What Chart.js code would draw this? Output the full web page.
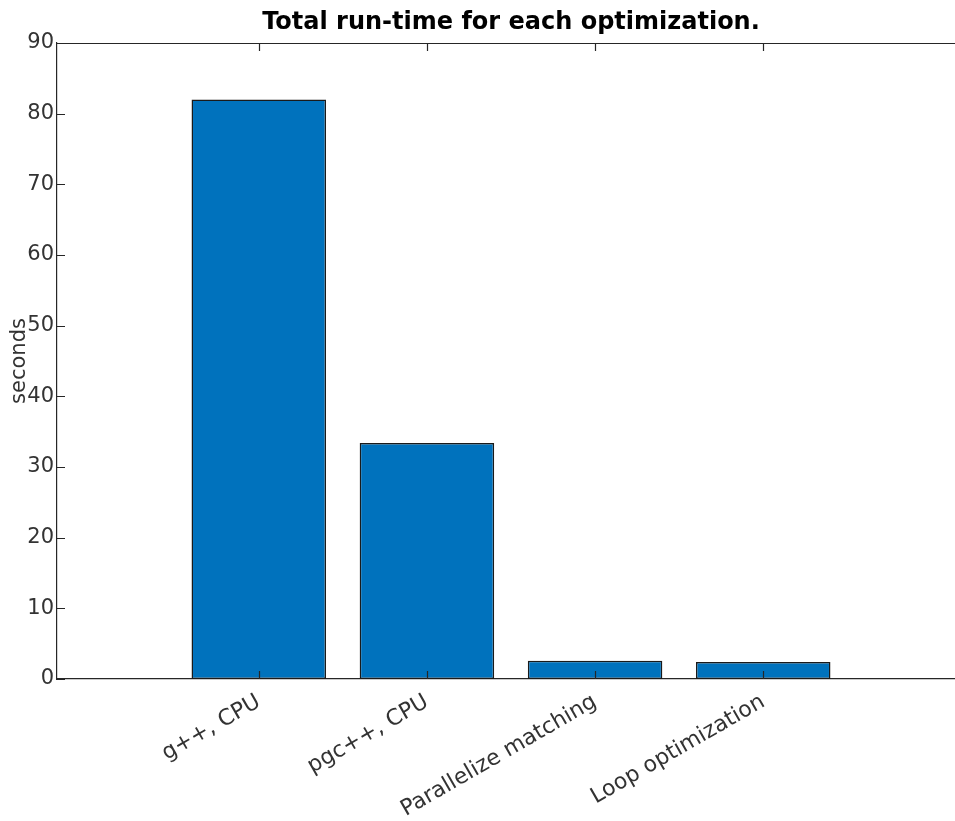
<!DOCTYPE html>
<html>
<head>
<meta charset="utf-8">
<script src="https://cdn.jsdelivr.net/npm/chart.js@4"></script>
<style>
  html, body { margin: 0; padding: 0; background: #fff; overflow: hidden; }
  #wrap { width: 970px; height: 821px; }
</style>
</head>
<body>
<div id="wrap"><canvas id="c" width="970" height="821"></canvas></div>
<script>
// Run-time data per optimization stage
const categories = ['g++, CPU', 'pgc++, CPU', 'Parallelize matching', 'Loop optimization'];
const seconds = [82.0, 33.4, 2.6, 2.4];
const yTicks = [0, 10, 20, 30, 40, 50, 60, 70, 80, 90];

const AXIS = '#262626';
const FONT = "'DejaVu Sans', sans-serif";

// MATLAB-style inward tick marks and top box edge
const innerTicks = {
  id: 'innerTicks',
  afterDatasetsDraw(chart) {
    const { ctx, chartArea: a, scales: { x, y } } = chart;
    const len = 8;
    ctx.save();
    ctx.strokeStyle = AXIS;
    ctx.lineWidth = 1.2;
    ctx.beginPath();
    // top edge
    ctx.moveTo(a.left, a.top + 0.5);
    ctx.lineTo(a.right, a.top + 0.5);
    // y ticks, pointing inward
    yTicks.forEach(v => {
      const py = Math.round(y.getPixelForValue(v)) + 0.5;
      ctx.moveTo(a.left, py);
      ctx.lineTo(a.left + len, py);
      ctx.moveTo(a.right, py);
      ctx.lineTo(a.right - len, py);
    });
    // x ticks at each category, bottom and top
    categories.forEach((_, i) => {
      const px = Math.round(x.getPixelForValue(i + 1)) + 0.5;
      ctx.moveTo(px, a.bottom);
      ctx.lineTo(px, a.bottom - len);
      ctx.moveTo(px, a.top);
      ctx.lineTo(px, a.top + len);
    });
    ctx.stroke();
    ctx.restore();
  }
};

new Chart(document.getElementById('c'), {
  type: 'bar',
  data: {
    datasets: [{
      data: seconds.map((v, i) => ({ x: i + 1, y: v })),
      backgroundColor: '#0072BD',
      borderColor: '#1a1a1a',
      borderWidth: 1.5,
      borderSkipped: false,
      categoryPercentage: 1,
      barPercentage: 0.8
    }]
  },
  options: {
    responsive: false,
    animation: false,
    layout: { padding: { left: 0, right: 5, top: 0, bottom: 0 } },
    plugins: {
      legend: { display: false },
      tooltip: { enabled: false },
      title: {
        display: true,
        fullSize: false,
        text: 'Total run-time for each optimization.',
        color: '#000',
        font: { family: FONT, size: 24, weight: 'bold' },
        padding: { top: 8, bottom: 6.2 }
      }
    },
    scales: {
      x: {
        type: 'linear',
        offset: false,
        min: -0.2,
        max: 5.2,
        afterBuildTicks(scale) {
          scale.ticks = categories.map((_, i) => ({ value: i + 1 }));
        },
        afterFit(scale) { scale.height = 142; },
        grid: { display: false, drawTicks: false },
        border: { display: true, color: AXIS, width: 1.2 },
        ticks: {
          autoSkip: false,
          minRotation: 30,
          maxRotation: 30,
          padding: 10,
          color: '#333',
          font: { family: FONT, size: 22 },
          callback: (v) => categories[Math.round(v) - 1] ?? ''
        }
      },
      y: {
        min: 0,
        max: 90,
        afterBuildTicks(scale) {
          scale.ticks = yTicks.map(v => ({ value: v }));
        },
        afterFit(scale) { scale.width = 57; },
        grid: { display: false, drawTicks: false },
        border: { display: true, color: AXIS, width: 1.2 },
        ticks: {
          padding: 3,
          color: '#333',
          font: { family: FONT, size: 21 }
        },
        title: {
          display: true,
          text: 'seconds',
          color: '#333',
          font: { family: FONT, size: 21 },
          padding: { top: 7, bottom: 0 }
        }
      }
    }
  },
  plugins: [innerTicks]
});
</script>
</body>
</html>
